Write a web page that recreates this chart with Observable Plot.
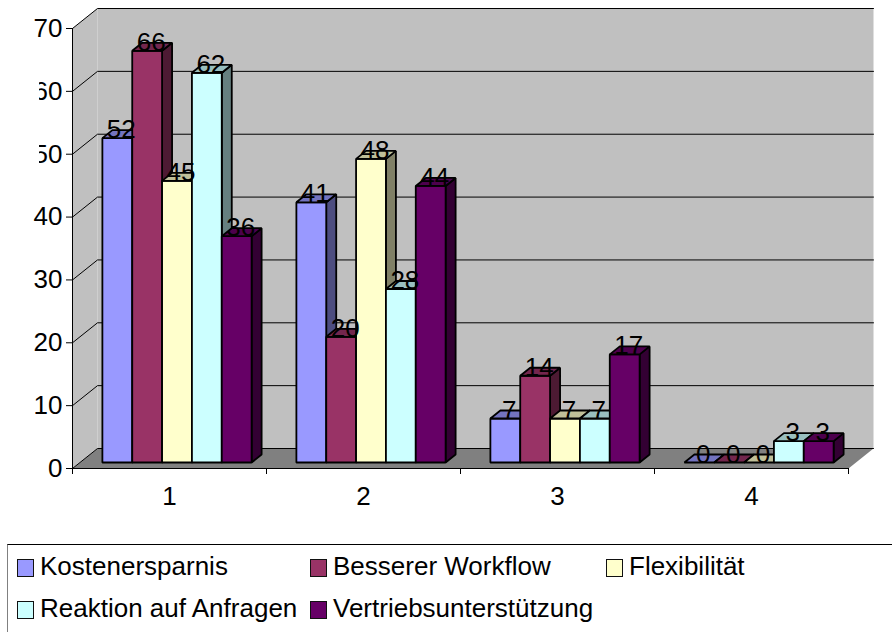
<!DOCTYPE html>
<html>
<head>
<meta charset="utf-8">
<script src="https://cdn.jsdelivr.net/npm/d3@7"></script>
<script src="https://cdn.jsdelivr.net/npm/@observablehq/plot@0.6"></script>
<style>
  html, body { margin: 0; padding: 0; background: #fff; overflow: hidden; }
  body { width: 892px; height: 632px; font-family: "Liberation Sans", Arial, sans-serif; color: #000; }
  svg { display: block; }
  #legend { position: absolute; left: 7px; top: 544px; right: 0; bottom: 0; border-top: 1px solid #000; border-left: 1px solid #808080; }
  .item { position: absolute; display: flex; align-items: center; height: 24px; font-size: 26px; white-space: nowrap; }
  .swatch { box-sizing: border-box; width: 17px; height: 18px; border: 1.7px solid #111; margin-right: 6px; margin-top: 3px; }
</style>
</head>
<body>
<div id="chart"></div>
<div id="legend"></div>
<script>
const categories = ["1", "2", "3", "4"];
const seriesNames = ["Kostenersparnis", "Besserer Workflow", "Flexibilität", "Reaktion auf Anfragen", "Vertriebsunterstützung"];
const kostenersparnis = [51.6, 41.4, 7, 0];
const bessererWorkflow = [65.5, 20, 13.8, 0];
const flexibilitaet = [44.8, 48.3, 7, 0];
const reaktion = [62, 27.6, 7, 3.4];
const vertrieb = [36, 44, 17.2, 3.4];
const seriesValues = [kostenersparnis, bessererWorkflow, flexibilitaet, reaktion, vertrieb];
const frontColors = ["#9999ff", "#993366", "#ffffcc", "#ccffff", "#660066"];
const topColors = ["#7373bf", "#73264d", "#bfbf99", "#99bfbf", "#4d004d"];
const sideColors = ["#4d4d80", "#4d1a33", "#808066", "#668080", "#330033"];
const yTicks = [0, 10, 20, 30, 40, 50, 60, 70];
const xEdges = [0, 1, 2, 3, 4];
const xCentres = [0.5, 1.5, 2.5, 3.5];

// Oblique depth of the chart box, expressed in data units of the two scales.
const depthX = 25 / 194;
const depthY = 3.18;
const barW = 1 / 6.5;
const gap = 0.75 / 6.5;
const barFront = 0.3, barBack = 0.7;

const pt = (x, v, d) => ({x: x + d * depthX, y: v + d * depthY});
const face = (id, fill, corners) => corners.map(([x, v, d]) => ({id, fill, ...pt(x, v, d)}));

const walls = [
  ...face("left", "#c0c0c0", [[0, 0, 0], [0, 70, 0], [0, 70, 1], [0, 0, 1]]),
  ...face("back", "#c0c0c0", [[0, 0, 1], [0, 70, 1], [4, 70, 1], [4, 0, 1]]),
  ...face("floor", "#808080", [[0, 0, 0], [0, 0, 1], [4, 0, 1], [4, 0, 0]])
];

const grid = yTicks.flatMap(v => [[0, v, 0], [0, v, 1], [4, v, 1]].map(([x, w, d]) => ({id: v, ...pt(x, w, d)})));

const barFaces = [];
const labels = [];
categories.forEach((c, i) => {
  seriesValues.forEach((vals, s) => {
    const v = vals[i];
    const x0 = i + gap + s * barW, x1 = x0 + barW;
    const key = i + "-" + s;
    if (v > 0) {
      barFaces.push(...face(key + "side", sideColors[s], [[x1, 0, barFront], [x1, v, barFront], [x1, v, barBack], [x1, 0, barBack]]));
      barFaces.push(...face(key + "front", frontColors[s], [[x0, 0, barFront], [x0, v, barFront], [x1, v, barFront], [x1, 0, barFront]]));
    }
    barFaces.push(...face(key + "top", topColors[s], [[x0, v, barFront], [x0, v, barBack], [x1, v, barBack], [x1, v, barFront]]));
    labels.push({...pt((x0 + x1) / 2, v, barFront), text: String(Math.round(v))});
  });
});

const chart = Plot.plot({
  width: 892,
  height: 544,
  marginTop: 28,
  marginBottom: 76,
  marginLeft: 72,
  marginRight: 44,
  style: {fontFamily: '"Liberation Sans", Arial, sans-serif', background: "#fff", overflow: "visible", color: "#000"},
  x: {type: "linear", domain: [0, 4], label: null},
  y: {type: "linear", domain: [0, 70], label: null},
  color: {type: "identity"},
  marks: [
    Plot.line(walls, {x: "x", y: "y", z: "id", fill: "fill", stroke: "none", curve: "linear-closed"}),
    Plot.line(grid, {x: "x", y: "y", z: "id", stroke: "#000", strokeWidth: 1, curve: "linear"}),
    Plot.ruleX([0], {y1: 0, y2: 70, stroke: "#000", strokeWidth: 1}),
    Plot.ruleY([0], {x1: 0, x2: 4, stroke: "#000", strokeWidth: 1.2}),
    Plot.axisY({ticks: yTicks, tickSize: 6, tickPadding: 4, fontSize: 26, label: null, stroke: "#000", strokeOpacity: 1, fill: "#000"}),
    Plot.axisX({ticks: xEdges, tickSize: 6, text: null, label: null, stroke: "#000", strokeOpacity: 1}),
    Plot.axisX({ticks: xCentres, tickSize: 0, tickPadding: 18, fontSize: 26, label: null, fill: "#000", tickFormat: d => categories[Math.floor(d)]}),
    // the source image loses the left edge of these two tick labels
    Plot.rect([{x1: -0.22, x2: -0.17, y1: 46, y2: 65}], {x1: "x1", x2: "x2", y1: "y1", y2: "y2", fill: "#fff"}),
    Plot.line(barFaces, {x: "x", y: "y", z: "id", fill: "fill", stroke: "#000", strokeWidth: 1.8, strokeLinejoin: "miter", curve: "linear-closed"}),
    Plot.text(labels, {x: "x", y: "y", text: "text", dx: 4, dy: 0, lineAnchor: "bottom", fontSize: 26, fill: "#000"})
  ]
});
document.getElementById("chart").appendChild(chart);

const legendLefts = [9, 302, 598];
const legendTops = [9, 51];
const legendSlots = [[0, 0], [1, 0], [2, 0], [0, 1], [1, 1]];
const legend = document.getElementById("legend");
seriesNames.forEach((name, s) => {
  const [col, row] = legendSlots[s];
  const item = document.createElement("div");
  item.className = "item";
  item.style.left = legendLefts[col] + "px";
  item.style.top = legendTops[row] + "px";
  const sw = document.createElement("span");
  sw.className = "swatch";
  sw.style.background = frontColors[s];
  const label = document.createElement("span");
  label.textContent = name;
  item.append(sw, label);
  legend.appendChild(item);
});
</script>
</body>
</html>
